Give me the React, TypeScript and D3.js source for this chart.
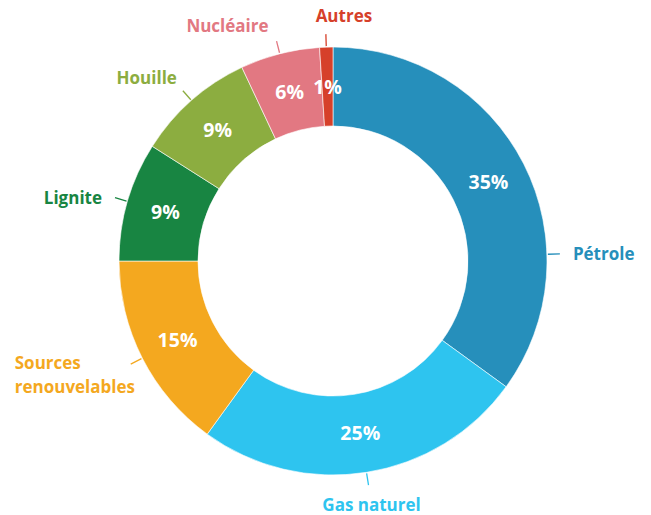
import { useEffect, useRef } from 'react';
import * as d3 from 'd3';

// Consommation d'énergie primaire par source (%)
const categories = ['Pétrole', 'Gas naturel', 'Sources renouvelables', 'Lignite', 'Houille', 'Nucléaire', 'Autres'];
const values = [35, 25, 15, 9, 9, 6, 1];
const colors = ['#268fbb', '#2ec4ef', '#f4a81f', '#188542', '#8cad40', '#e27882', '#d6402a'];
// label lines (Sources renouvelables is split in two)
const labelLines = [['Pétrole'], ['Gas naturel'], ['Sources', 'renouvelables'], ['Lignite'], ['Houille'], ['Nucléaire'], ['Autres']];

const W = 651,
	H = 515;

const App = () => {
	const ref = useRef<SVGSVGElement>(null);

	useEffect(() => {
		const svg = d3.select(ref.current);
		svg.selectAll('*').remove();

		const cx = 333,
			cy = 261,
			outerR = 214,
			innerR = 135;

		const data = categories.map((c, i) => ({ name: c, value: values[i], color: colors[i], lines: labelLines[i] }));

		const pie = d3
			.pie<any>()
			.value((d) => d.value)
			.sort(null);
		const arcs = pie(data);

		const arc = d3.arc<any>().innerRadius(innerR).outerRadius(outerR);

		const g = svg.append('g').attr('transform', `translate(${cx},${cy})`);

		g.selectAll('path.slice')
			.data(arcs)
			.join('path')
			.attr('class', 'slice')
			.attr('d', arc)
			.attr('fill', (d) => d.data.color)
			.attr('stroke', '#ffffff')
			.attr('stroke-width', 0.6);

		// percent labels at the centroid
		g.selectAll('text.pct')
			.data(arcs)
			.join('text')
			.attr('class', 'pct')
			.attr('x', (d) => arc.centroid(d)[0])
			.attr('y', (d) => arc.centroid(d)[1])
			.attr('dy', '0.36em')
			.attr('text-anchor', 'middle')
			.attr('fill', '#ffffff')
			.style('font-family', '"Open Sans", sans-serif')
			.style('font-weight', 700)
			.style('font-size', '19.5px')
			.text((d) => `${d.data.value}%`);

		// leader angle: middle of the slice, Pétrole sits near 3 o'clock
		const leaderAngle = (d: any, i: number) => (i === 0 ? Math.PI * 0.49 : (d.startAngle + d.endAngle) / 2);
		// text offsets from the end of the leader line
		const labelOffset: [number, number, string][] = [
			[13, 0, 'start'],
			[3, 20, 'middle'],
			[-116, -1, 'start'],
			[-13, 0, 'end'],
			[-6, -13, 'end'],
			[-8, -15, 'end'],
			[18, -18, 'middle'],
		];

		arcs.forEach((d, i) => {
			const a = leaderAngle(d, i);
			const r1 = outerR + 1,
				r2 = outerR + 13;
			const x1 = Math.sin(a) * r1,
				y1 = -Math.cos(a) * r1;
			const x2 = Math.sin(a) * r2,
				y2 = -Math.cos(a) * r2;
			g.append('line')
				.attr('x1', x1)
				.attr('y1', y1)
				.attr('x2', x2)
				.attr('y2', y2)
				.attr('stroke', d.data.color)
				.attr('stroke-width', 1.3);

			const [ox, oy, anchor] = labelOffset[i];
			const lines: string[] = d.data.lines;
			const t = g
				.append('text')
				.attr('x', x2 + ox)
				.attr('y', y2 + oy)
				.attr('text-anchor', anchor)
				.attr('fill', d.data.color)
				.style('font-family', '"Open Sans", sans-serif')
				.style('font-weight', 700)
				.style('font-size', '17px');
			lines.forEach((l, j) => {
				t.append('tspan')
					.attr('x', x2 + ox)
					.attr('dy', j === 0 ? '0.36em' : '1.4em')
					.text(l);
			});
		});
	}, []);

	return <svg ref={ref} width={W} height={H} style={{ position: 'absolute', left: 0, top: 0, background: '#ffffff' }}></svg>;
};

export default App;
